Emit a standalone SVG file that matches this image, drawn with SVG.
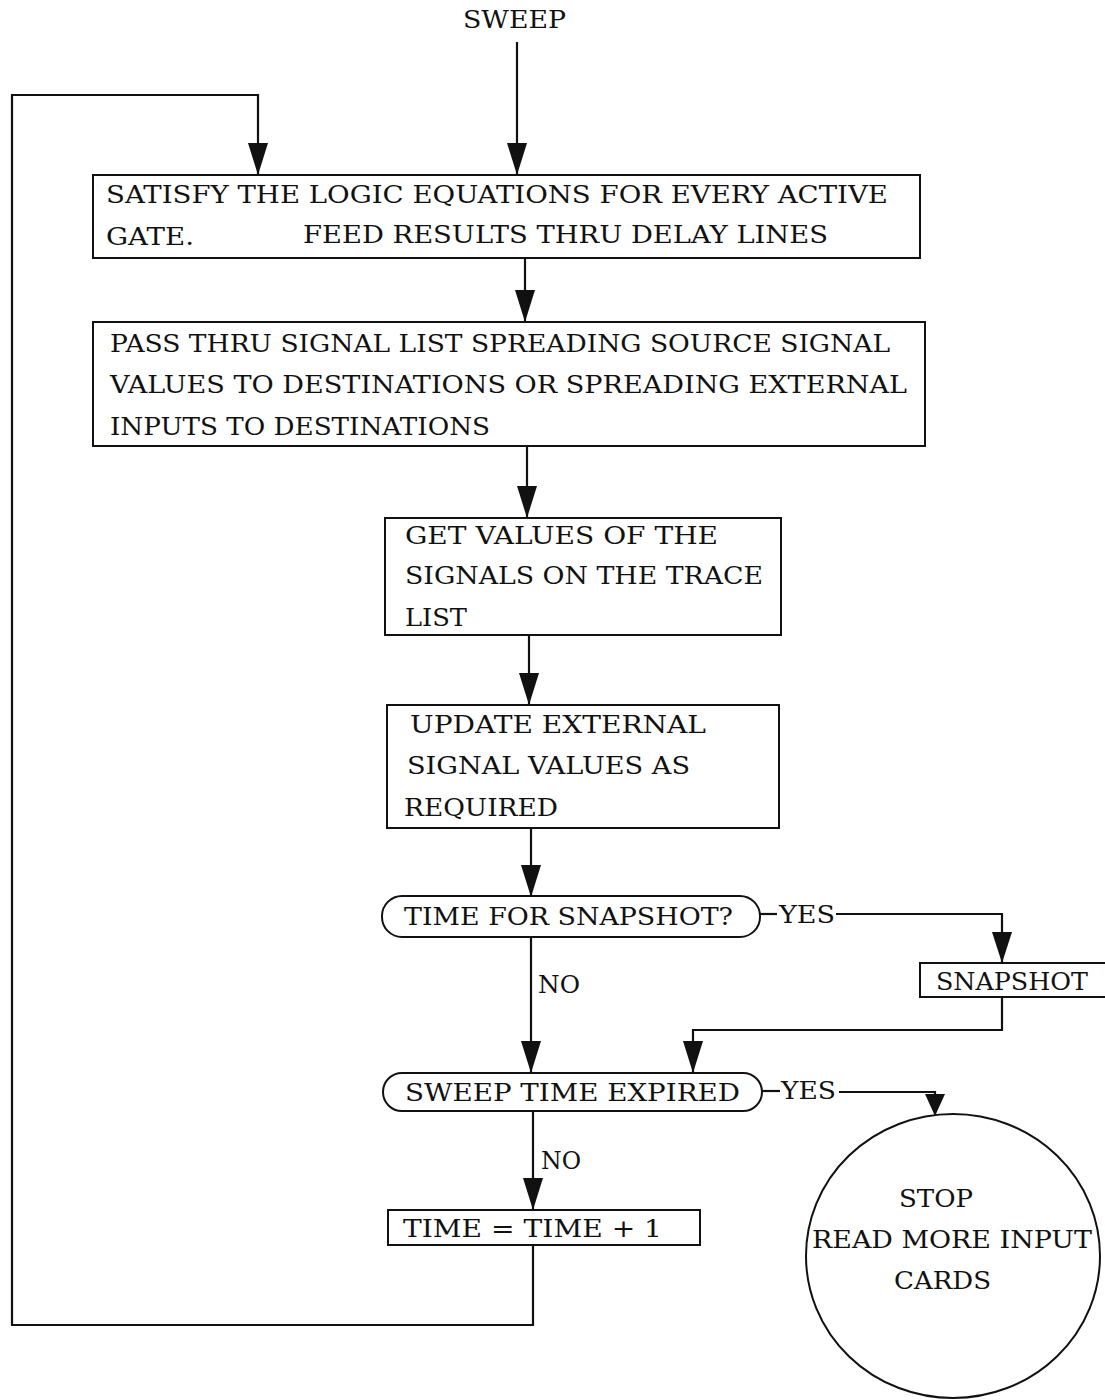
<svg xmlns="http://www.w3.org/2000/svg" width="1105" height="1400" viewBox="0 0 1105 1400">
<style>
text{font-family:"DejaVu Serif","Liberation Serif",serif;font-size:24px;fill:#111}
.box{fill:#fff;stroke:#111;stroke-width:2}
.ln{fill:none;stroke:#111;stroke-width:2.2}
.ah{fill:#111}
</style>
<rect width="1105" height="1400" fill="#fff"/>
<text x="463" y="28" textLength="103" lengthAdjust="spacingAndGlyphs">SWEEP</text>
<g id="connectors">
<path class="ln" d="M517,42 V175"/>
<polygon class="ah" points="507,143 527,143 517,175"/>
<path class="ln" d="M533,1245 V1325 H12 V95 H258 V175"/>
<polygon class="ah" points="248,143 268,143 258,175"/>
<path class="ln" d="M525,258 V322"/>
<polygon class="ah" points="515,290 535,290 525,322"/>
<path class="ln" d="M527,446 V518"/>
<polygon class="ah" points="517,486 537,486 527,518"/>
<path class="ln" d="M529,635 V705"/>
<polygon class="ah" points="519,673 539,673 529,705"/>
<path class="ln" d="M531,828 V897"/>
<polygon class="ah" points="521,865 541,865 531,897"/>
<path class="ln" d="M531,937 V1073"/>
<polygon class="ah" points="521,1041 541,1041 531,1073"/>
<path class="ln" d="M760,914 H777"/>
<path class="ln" d="M836,914 H1002 V963"/>
<polygon class="ah" points="992,932 1012,932 1002,963"/>
<path class="ln" d="M1002,997 V1030 H693 V1073"/>
<polygon class="ah" points="683,1041 703,1041 693,1073"/>
<path class="ln" d="M762,1091 H780"/>
<path class="ln" d="M839,1092 H935 V1114"/>
<polygon class="ah" points="925,1094 945,1094 935,1116"/>
<path class="ln" d="M533,1111 V1210"/>
<polygon class="ah" points="523,1178 543,1178 533,1210"/>
<text x="538" y="993" textLength="42" lengthAdjust="spacingAndGlyphs">NO</text>
<text x="779" y="923" textLength="56" lengthAdjust="spacingAndGlyphs">YES</text>
<text x="541" y="1169" textLength="40" lengthAdjust="spacingAndGlyphs">NO</text>
<text x="781" y="1099" textLength="55" lengthAdjust="spacingAndGlyphs">YES</text>
</g>
<g id="n1">
<rect class="box" x="93" y="175" width="827" height="83"/>
<text x="106" y="203" textLength="782" lengthAdjust="spacingAndGlyphs">SATISFY THE LOGIC EQUATIONS FOR EVERY ACTIVE</text>
<text x="106" y="245" textLength="88" lengthAdjust="spacingAndGlyphs">GATE.</text>
<text x="303" y="243" textLength="525" lengthAdjust="spacingAndGlyphs">FEED RESULTS THRU DELAY LINES</text>
</g>
<g id="n2">
<rect class="box" x="93" y="322" width="832" height="124"/>
<text x="110" y="352" textLength="780" lengthAdjust="spacingAndGlyphs">PASS THRU SIGNAL LIST SPREADING SOURCE SIGNAL</text>
<text x="110" y="393" textLength="797" lengthAdjust="spacingAndGlyphs">VALUES TO DESTINATIONS OR SPREADING EXTERNAL</text>
<text x="110" y="435" textLength="380" lengthAdjust="spacingAndGlyphs">INPUTS TO DESTINATIONS</text>
</g>
<g id="n3">
<rect class="box" x="385" y="518" width="396" height="117"/>
<text x="405" y="544" textLength="313" lengthAdjust="spacingAndGlyphs">GET VALUES OF THE</text>
<text x="405" y="584" textLength="358" lengthAdjust="spacingAndGlyphs">SIGNALS ON THE TRACE</text>
<text x="405" y="626" textLength="62" lengthAdjust="spacingAndGlyphs">LIST</text>
</g>
<g id="n4">
<rect class="box" x="387" y="705" width="392" height="123"/>
<text x="410" y="733" textLength="296" lengthAdjust="spacingAndGlyphs">UPDATE EXTERNAL</text>
<text x="407" y="774" textLength="283" lengthAdjust="spacingAndGlyphs">SIGNAL VALUES AS</text>
<text x="404" y="816" textLength="154" lengthAdjust="spacingAndGlyphs">REQUIRED</text>
</g>
<g id="d1">
<rect class="box" x="382" y="896" width="378" height="41" rx="20" ry="20"/>
<text x="404" y="925" textLength="329" lengthAdjust="spacingAndGlyphs">TIME FOR SNAPSHOT?</text>
</g>
<g id="n5">
<rect class="box" x="920" y="963" width="190" height="34"/>
<text x="936" y="990" textLength="152" lengthAdjust="spacingAndGlyphs">SNAPSHOT</text>
</g>
<g id="d2">
<rect class="box" x="383" y="1073" width="379" height="38" rx="19" ry="19"/>
<text x="405" y="1101" textLength="335" lengthAdjust="spacingAndGlyphs">SWEEP TIME EXPIRED</text>
</g>
<g id="n6">
<rect class="box" x="388" y="1210" width="312" height="35"/>
<text x="403" y="1237" textLength="259" lengthAdjust="spacingAndGlyphs">TIME = TIME + 1</text>
</g>
<g id="stop">
<ellipse class="box" cx="953" cy="1256" rx="147" ry="142"/>
<text x="899" y="1207" textLength="74" lengthAdjust="spacingAndGlyphs">STOP</text>
<text x="812" y="1248" textLength="280" lengthAdjust="spacingAndGlyphs">READ MORE INPUT</text>
<text x="894" y="1289" textLength="97" lengthAdjust="spacingAndGlyphs">CARDS</text>
</g>
</svg>
